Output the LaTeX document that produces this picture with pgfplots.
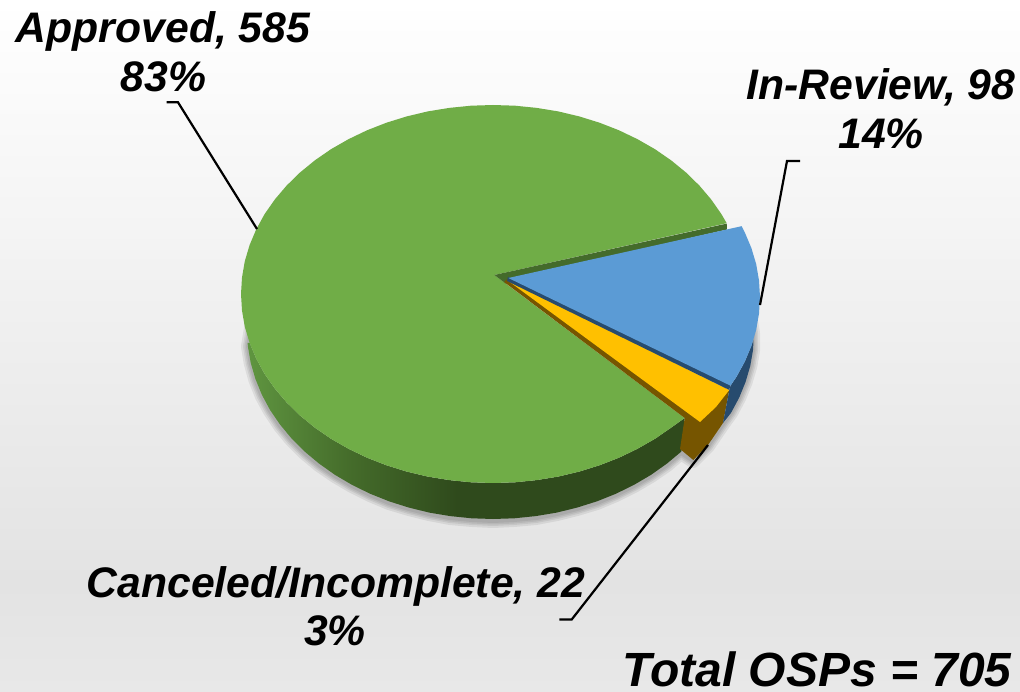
\documentclass[border=0pt]{standalone}
\usepackage{pgfplots}
\pgfplotsset{compat=1.18}
\usepackage{fontspec}
\setmainfont{Liberation Sans}
\definecolor{gtop}{HTML}{70AD47}
\definecolor{gstrip}{HTML}{446B2B}
\definecolor{btop}{HTML}{5B9BD5}
\definecolor{bside}{HTML}{274B6E}
\definecolor{ytop}{HTML}{FFC000}
\definecolor{yside}{HTML}{765500}
\definecolor{gs1}{HTML}{5F9540}
\definecolor{gs2}{HTML}{446B2A}
\definecolor{gs3}{HTML}{2F4A1C}
\pgfdeclarehorizontalshading{greenside}{100bp}{color(0bp)=(gs1); color(25bp)=(gs1); color(37bp)=(gs2); color(49bp)=(gs3); color(100bp)=(gs3)}
\pgfdeclareverticalshading{pagebg}{100bp}{color(0bp)=(black!9); color(25bp)=(black!9); color(33bp)=(black!11); color(75bp)=(white); color(100bp)=(white)}
\newcommand{\lab}[2]{\fontsize{#1}{#1}\selectfont\bfseries\itshape #2}
\begin{document}
\begin{tikzpicture}
\begin{axis}[
  scale only axis, width=1020pt, height=692pt,
  xmin=0, xmax=1020, ymin=0, ymax=692, y dir=reverse,
  hide axis, no markers, clip=true]
% page background
\fill[shading=pagebg] (axis cs:0,0) rectangle (axis cs:1020,692);
% soft shadow under the pie
\pgfplotsinvokeforeach{14,10,7,4}{
\addplot[draw=black, opacity=0.07, line width=#1pt, line join=round, line cap=round, forget plot] coordinates {
 (252,322) (248,346.5) (250.7,363) (255.4,380) (261.8,396) (270,411) (280,426) (291.5,440) (304.6,453) (319,465) (335,476) (352,486) (370,495) (389,503) (409,509) (429,514) (450,518) (472,520) (493,521) (514,520) (536,518) (557,514) (577,509) (597,503) (616,495) (634,486) (651,476) (667,465) (681,453) (693,461) (708,446) (723,424) (731,413) (739,398) (745.6,382) (750.3,366) (753.1,350) (753,333) (750,315)};
}
% green side
\addplot[shade, shading=greenside, draw=none, forget plot] coordinates {
 (684.7,418) (671.2,427.6) (655.0,438.8) (637.5,448.8) (619.0,457.7) (599.5,465.3) (579.2,471.6) (558.2,476.6) (536.7,480.1) (515.0,482.3) (493,483)
 (471.0,482.3) (449.3,480.1) (427.8,476.6) (406.8,471.6) (386.5,465.3) (367.0,457.7) (348.5,448.8) (331.0,438.8) (314.8,427.6) (300.0,415.5) (286.6,402.4) (274.8,388.5) (264.6,373.9) (256.2,358.6) (249.6,342.9)
 (247.6,343) (247.9,346.5) (250.7,362.8) (255.4,378.9) (261.8,394.6) (270.0,409.9) (280.0,424.5) (291.5,438.4) (304.6,451.5) (319.1,463.6) (334.9,474.8) (351.9,484.8) (370.0,493.7) (389.0,501.3) (408.9,507.6) (429.3,512.6) (450.3,516.1) (471.6,518.3) (493,519)
 (514.4,518.3) (535.7,516.1) (556.7,512.6) (577.1,507.6) (597.0,501.3) (616.0,493.7) (634.1,484.8) (651.1,474.8) (666.9,463.6) (681.4,451.5)};
% green top
\addplot[fill=gtop, draw=none, forget plot] coordinates {
 (684.7,418) (671.2,427.6) (655.0,438.8) (637.5,448.8) (619.0,457.7) (599.5,465.3) (579.2,471.6) (558.2,476.6) (536.7,480.1) (515.0,482.3) (493,483)
 (471.0,482.3) (449.3,480.1) (427.8,476.6) (406.8,471.6) (386.5,465.3) (367.0,457.7) (348.5,448.8) (331.0,438.8) (314.8,427.6) (300.0,415.5) (286.6,402.4) (274.8,388.5) (264.6,373.9) (256.2,358.6) (249.6,342.9) (244.8,326.8) (242.0,310.5) (241,294)
 (242.0,277.5) (244.8,261.2) (249.6,245.1) (256.2,229.4) (264.6,214.1) (274.8,199.5) (286.6,185.6) (300.0,172.5) (314.8,160.4) (331.0,149.2) (348.5,139.2) (367.0,130.3) (386.5,122.7) (406.8,116.4) (427.8,111.4) (449.3,107.9) (471.0,105.7) (493,105)
 (515.0,105.7) (536.7,107.9) (558.2,111.4) (579.2,116.4) (599.5,122.7) (619.0,130.3) (637.5,139.2) (655.0,149.2) (671.2,160.4) (686.0,172.5) (699.4,185.6) (711.2,199.5) (721.4,214.1) (726.7,223.2)
 (494.3,275)};
% green cut face, with the wedge point
\addplot[fill=gstrip, draw=none, forget plot] coordinates {(494.3,275) (726.7,223.6) (727,229.5) (511,279) (506,283.8)};
% yellow side
\addplot[fill=yside, draw=none, forget plot] coordinates {(507,279) (504,282) (684.7,418) (680,449) (693.3,460) (708,445) (723,423) (729.3,390) (700,420)};
% yellow top
\addplot[fill=ytop, draw=none, forget plot] coordinates {(507,280) (729.3,390) (716,407) (700,422)};
% blue side
\addplot[fill=bside, draw=none, forget plot] coordinates {
 (730.5,385.7) (736.4,376.9) (744.8,361.6) (751.4,345.9) (753.5,339.5) (753.1,349.5) (750.3,365.8) (745.6,381.9) (739.2,397.6) (731,412.9) (723,423) (729.3,390)};
\addplot[fill=bside, draw=none, forget plot] coordinates {(508,277) (730.5,384) (729.3,390) (507,281)};
% blue top
\addplot[fill=btop, draw=none, forget plot] coordinates {
 (508.3,278) (741.6,226.2) (744.8,232.4) (751.4,248.1) (756.2,264.2) (759.0,280.5) (760,297) (759.0,313.5) (756.2,329.8) (751.4,345.9) (744.8,361.6) (736.4,376.9) (730.5,385.7)};
% leaders
\addplot[black, line width=2.2pt, forget plot] coordinates {(166.7,102.3) (178,102.3) (257,229)};
\addplot[black, line width=2.2pt, forget plot] coordinates {(800,161) (787,161) (760,305)};
\addplot[black, line width=2.2pt, forget plot] coordinates {(559.3,619.5) (571.7,619.5) (708,445)};
% labels
\node[anchor=base, inner sep=0pt] at (axis cs:163,43) {\lab{42.7}{Approved, 585}};
\node[anchor=base, inner sep=0pt] at (axis cs:163.5,92) {\lab{42.7}{83\%}};
\node[anchor=base, inner sep=0pt] at (axis cs:881,100) {\lab{42.7}{In-Review, 98}};
\node[anchor=base, inner sep=0pt] at (axis cs:881,149) {\lab{42.7}{14\%}};
\node[anchor=base, inner sep=0pt] at (axis cs:336,597) {\lab{42.7}{Canceled/Incomplete, 22}};
\node[anchor=base, inner sep=0pt] at (axis cs:335,645) {\lab{42.7}{3\%}};
\node[anchor=base, inner sep=0pt] at (axis cs:817,686.5) {\lab{48}{Total OSPs = 705}};
\end{axis}
\end{tikzpicture}
\end{document}
